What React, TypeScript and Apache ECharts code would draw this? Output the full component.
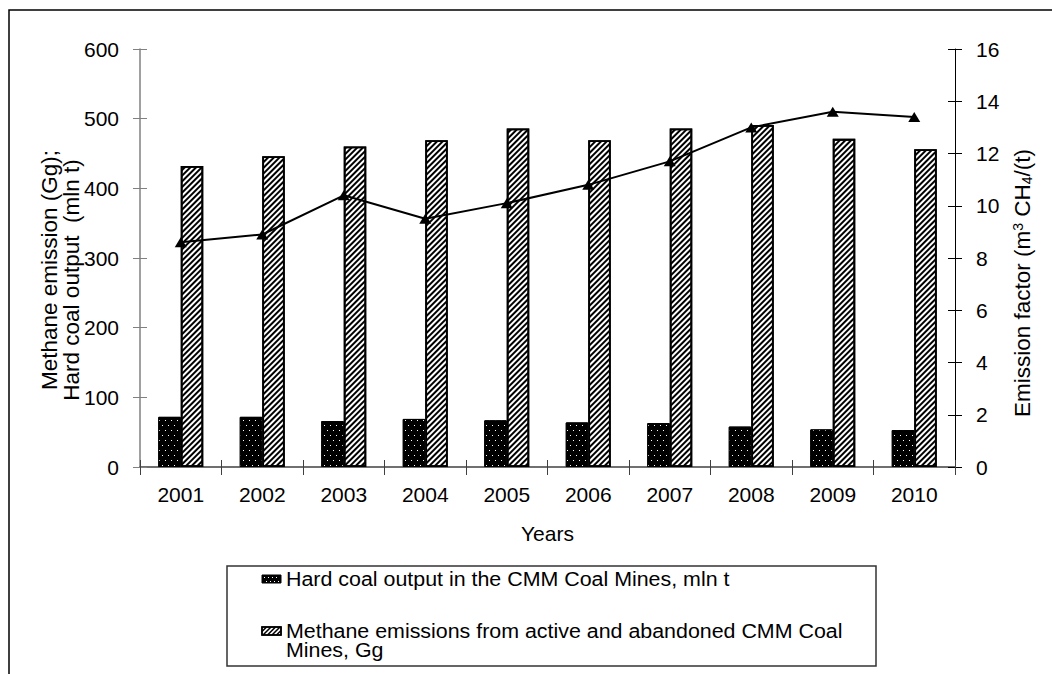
import React, { useEffect, useRef } from 'react';
import * as echarts from 'echarts';

const years = ['2001', '2002', '2003', '2004', '2005', '2006', '2007', '2008', '2009', '2010'];
const coalOutput = [72, 72, 66, 69, 67, 64, 63, 58, 54, 53];
const methaneEmissions = [432, 446, 460, 469, 486, 469, 486, 491, 471, 456];
const emissionFactor = [8.6, 8.9, 10.4, 9.5, 10.1, 10.8, 11.7, 13.0, 13.6, 13.4];

const leftAxisRange = { min: 0, max: 600, interval: 100 };
const rightAxisRange = { min: 0, max: 16, interval: 2 };

const seriesNames = [
  'Hard coal output in the CMM Coal Mines, mln t',
  'Methane emissions from active and abandoned CMM Coal Mines, Gg',
  'Emission factor',
];
const legendTexts = [
  'Hard coal output in the CMM Coal Mines, mln t',
  'Methane emissions from active and abandoned CMM Coal\nMines, Gg',
];
const leftNameLines = ['Methane emission (Gg);', 'Hard coal output  (mln t)'];
const xAxisName = 'Years';

const FONT = '"Liberation Sans", Arial, sans-serif';

function hatchLines(x: number, y: number, w: number, h: number, step: number) {
  const out: any[] = [];
  for (let x0 = x - h; x0 < x + w; x0 += step) {
    const tmin = Math.max(0, x - x0);
    const tmax = Math.min(h, x + w - x0);
    if (tmax <= tmin) continue;
    out.push({
      type: 'line',
      silent: true,
      shape: { x1: x0 + tmin, y1: y + h - tmin, x2: x0 + tmax, y2: y + h - tmax },
      style: { stroke: '#000', lineWidth: 1.6 },
      z: 12,
    });
  }
  return out;
}

function dotRects(x: number, y: number, w: number, h: number) {
  const out: any[] = [];
  let row = 0;
  for (let yy = y + 2; yy < y + h - 1; yy += 4) {
    for (let xx = x + 2 + (row % 2) * 2; xx < x + w - 1; xx += 4) {
      out.push({
        type: 'rect',
        silent: true,
        shape: { x: xx, y: yy, width: 1, height: 1 },
        style: { fill: '#fff' },
        z: 12,
      });
    }
    row++;
  }
  return out;
}

export default function App() {
  const ref = useRef<HTMLDivElement>(null);

  useEffect(() => {
    if (!ref.current) return;
    const chart = echarts.init(ref.current, null, { renderer: 'svg' });

    const axisLabelStyle = { fontSize: 21, color: '#000', fontFamily: FONT };

    const legendX = 227;
    const legendY = 566;
    const iconX = 262;
    const iconW = 19;
    const iconH = 8;

    const option: any = {
      animation: false,
      backgroundColor: '#fff',
      grid: { left: 140, right: 97, top: 49, bottom: 207, containLabel: false },
      xAxis: [
        {
          type: 'category',
          data: years,
          position: 'bottom',
          axisLine: { show: true, lineStyle: { color: '#404040', width: 1.5 } },
          axisTick: { show: true, length: 8, lineStyle: { color: '#404040', width: 1 } },
          axisLabel: { ...axisLabelStyle, margin: 17 },
          splitLine: { show: false },
          name: xAxisName,
          nameLocation: 'middle',
          nameGap: 56,
          nameTextStyle: { fontSize: 21, color: '#000', fontFamily: FONT },
        },
        {
          type: 'category',
          data: years,
          position: 'bottom',
          offset: 0,
          axisLine: { show: false },
          axisTick: { show: true, inside: true, length: 7, lineStyle: { color: '#404040', width: 1 } },
          axisLabel: { show: false },
          splitLine: { show: false },
        },
      ],
      yAxis: [
        {
          type: 'value',
          position: 'left',
          ...leftAxisRange,
          axisLine: { show: true, lineStyle: { color: '#808080', width: 1.5 } },
          axisTick: { show: true, length: 7, lineStyle: { color: '#808080', width: 1 } },
          axisLabel: { ...axisLabelStyle, margin: 21 },
          splitLine: { show: false },
        },
        {
          type: 'value',
          position: 'right',
          ...rightAxisRange,
          axisLine: { show: true, lineStyle: { color: '#000', width: 1 } },
          axisTick: { show: true, length: 7, lineStyle: { color: '#000', width: 1 } },
          axisLabel: { ...axisLabelStyle, margin: 21 },
          splitLine: { show: false },
        },
        {
          type: 'value',
          position: 'left',
          offset: 0,
          ...leftAxisRange,
          axisLine: { show: false },
          axisTick: { show: true, inside: true, length: 7, lineStyle: { color: '#808080', width: 1 } },
          axisLabel: { show: false },
          splitLine: { show: false },
        },
        {
          type: 'value',
          position: 'right',
          offset: 0,
          ...rightAxisRange,
          axisLine: { show: false },
          axisTick: { show: true, inside: true, length: 7, lineStyle: { color: '#000', width: 1 } },
          axisLabel: { show: false },
          splitLine: { show: false },
        },
      ],
      series: [
        {
          name: seriesNames[0],
          type: 'bar',
          data: coalOutput,
          barWidth: 22.5,
          barGap: '0%',
          itemStyle: {
            color: '#000',
            borderColor: '#000',
            borderWidth: 1,
            decal: {
              symbol: 'rect',
              symbolSize: 1,
              color: '#fff',
              dashArrayX: [[1, 5], [0, 3, 1, 2]],
              dashArrayY: [1, 4],
            },
          },
        },
        {
          name: seriesNames[1],
          type: 'bar',
          data: methaneEmissions,
          barWidth: 22.5,
          barGap: '0%',
          itemStyle: {
            color: '#fff',
            borderColor: '#000',
            borderWidth: 1.8,
            decal: {
              symbol: 'rect',
              symbolSize: 1,
              color: '#000',
              dashArrayX: [1, 0],
              dashArrayY: [2, 2],
              rotation: -Math.PI / 4,
            },
          },
        },
        {
          name: seriesNames[2],
          type: 'line',
          yAxisIndex: 1,
          data: emissionFactor,
          symbol: 'triangle',
          symbolSize: [12, 10],
          showSymbol: true,
          itemStyle: { color: '#000' },
          lineStyle: { color: '#000', width: 2 },
          z: 5,
        },
      ],
      graphic: [
        {
          type: 'rect',
          silent: true,
          shape: { x: 9, y: 10, width: 1100, height: 700 },
          style: { fill: 'transparent', stroke: '#000', lineWidth: 1.5 },
          z: -1,
        },
        {
          type: 'text',
          silent: true,
          x: 49,
          y: 270,
          rotation: Math.PI / 2,
          style: {
            text: leftNameLines[0],
            fontSize: 22.5,
            fontFamily: FONT,
            fill: '#000',
            align: 'center',
            verticalAlign: 'middle',
          },
        },
        {
          type: 'text',
          silent: true,
          x: 71,
          y: 280,
          rotation: Math.PI / 2,
          style: {
            text: leftNameLines[1],
            fontSize: 22.5,
            fontFamily: FONT,
            fill: '#000',
            align: 'center',
            verticalAlign: 'middle',
          },
        },
        {
          type: 'text',
          silent: true,
          x: 1022,
          y: 283,
          rotation: Math.PI / 2,
          style: {
            text: 'Emission factor (m{sup|3} CH{sub|4}/(t)',
            fontSize: 22.5,
            fontFamily: FONT,
            fill: '#000',
            align: 'center',
            verticalAlign: 'middle',
            rich: {
              sup: { fontSize: 14, fontFamily: FONT, fill: '#000', verticalAlign: 'top' },
              sub: { fontSize: 14, fontFamily: FONT, fill: '#000', verticalAlign: 'bottom' },
            },
          },
        },
        {
          type: 'rect',
          silent: true,
          shape: { x: legendX, y: legendY, width: 649, height: 100 },
          style: { fill: '#fff', stroke: '#333', lineWidth: 1.5 },
          z: 10,
        },
        {
          type: 'rect',
          silent: true,
          shape: { x: iconX, y: 575, width: iconW, height: iconH },
          style: { fill: '#000', stroke: '#000', lineWidth: 1 },
          z: 11,
        },
        ...dotRects(iconX, 575, iconW, iconH),
        {
          type: 'rect',
          silent: true,
          shape: { x: iconX, y: 627, width: iconW, height: iconH },
          style: { fill: '#fff', stroke: '#000', lineWidth: 1.5 },
          z: 11,
        },
        ...hatchLines(iconX, 627, iconW, iconH, 4.5),
        {
          type: 'rect',
          silent: true,
          shape: { x: iconX, y: 627, width: iconW, height: iconH },
          style: { fill: 'transparent', stroke: '#000', lineWidth: 1.5 },
          z: 13,
        },
        {
          type: 'text',
          silent: true,
          x: 286,
          y: 579,
          scaleX: 1.07,
          z: 12,
          style: {
            text: legendTexts[0],
            fontSize: 20,
            fontFamily: FONT,
            fill: '#000',
            align: 'left',
            verticalAlign: 'middle',
          },
        },
        {
          type: 'text',
          silent: true,
          x: 286,
          y: 621.5,
          scaleX: 1.07,
          z: 12,
          style: {
            text: legendTexts[1],
            fontSize: 20,
            lineHeight: 19,
            fontFamily: FONT,
            fill: '#000',
            align: 'left',
            verticalAlign: 'top',
          },
        },
      ],
    };

    chart.setOption(option);
    return () => {
      chart.dispose();
    };
  }, []);

  return (
    <div
      ref={ref}
      style={{ position: 'fixed', left: 0, top: 0, width: 1052, height: 674, background: '#fff' }}
    />
  );
}
